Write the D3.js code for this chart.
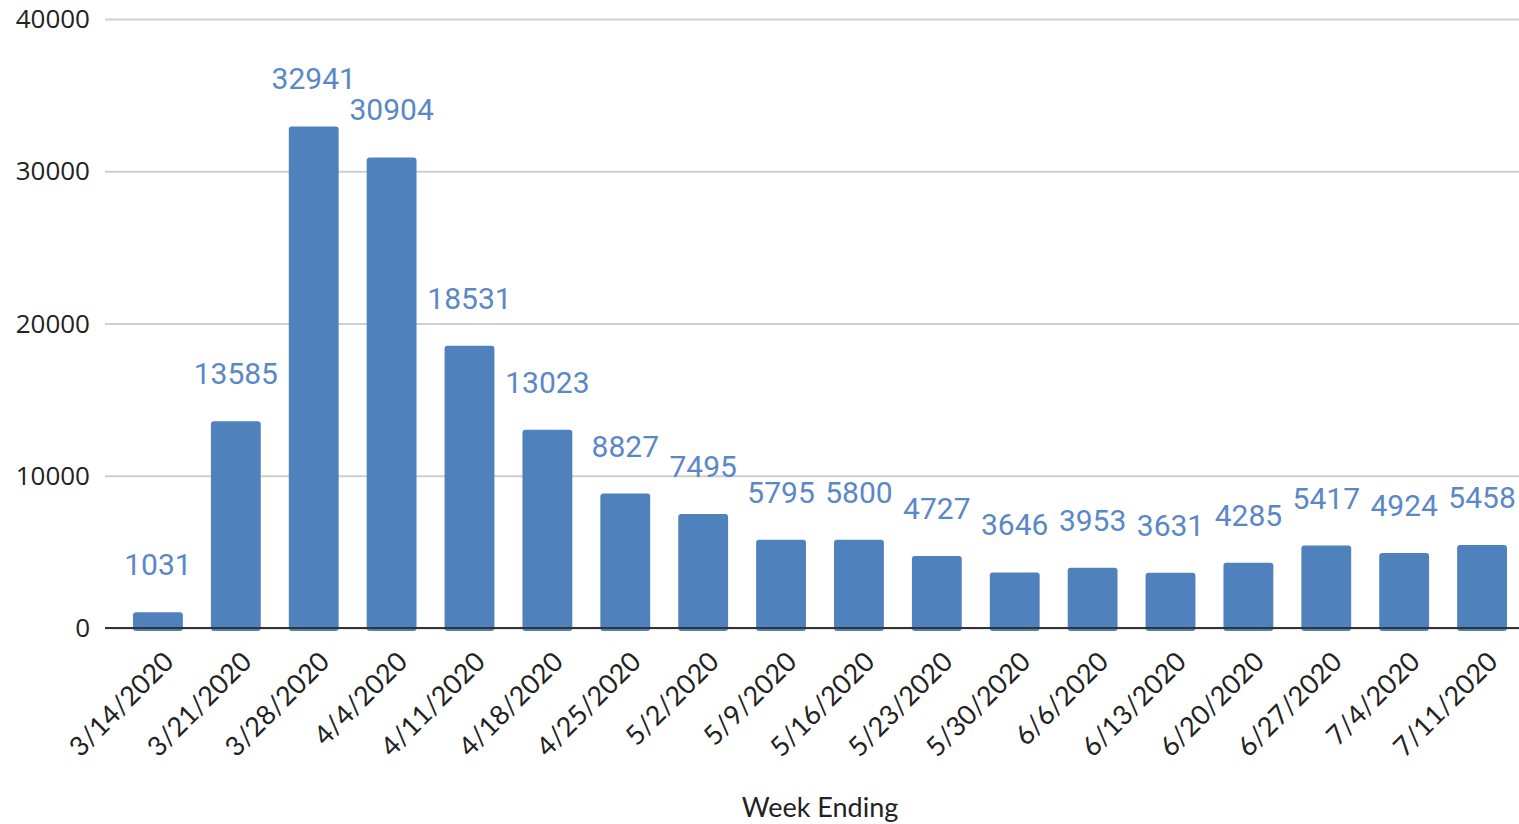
<!DOCTYPE html>
<html>
<head>
<meta charset="utf-8">
<script src="https://cdn.jsdelivr.net/npm/d3@7"></script>
<style>
  body { margin: 0; background: #fff; }
  .tick-label { font-family: "Open Sans", sans-serif; font-size: 26px; fill: #222; }
  .x-label { font-family: Lato, sans-serif; font-size: 27px; fill: #222; }
  .value-label { font-family: Roboto, sans-serif; font-size: 30px; fill: #5a88c6; }
  .axis-title { font-family: Lato, sans-serif; font-size: 27px; fill: #222; }
</style>
</head>
<body>
<div class="chart"></div>
<script>
const WIDTH = 1519;
const HEIGHT = 824;

const WEEKS = ["3/14/2020", "3/21/2020", "3/28/2020", "4/4/2020", "4/11/2020", "4/18/2020",
  "4/25/2020", "5/2/2020", "5/9/2020", "5/16/2020", "5/23/2020", "5/30/2020",
  "6/6/2020", "6/13/2020", "6/20/2020", "6/27/2020", "7/4/2020", "7/11/2020"];
const CLAIMS = [1031, 13585, 32941, 30904, 18531, 13023, 8827, 7495, 5795, 5800,
  4727, 3646, 3953, 3631, 4285, 5417, 4924, 5458];
const Y_TICKS = [0, 10000, 20000, 30000, 40000];
const X_TITLE = "Week Ending";

const BAR_COLOR = "#4f81bd";

const svg = d3.select(".chart").append("svg").attr("width", WIDTH).attr("height", HEIGHT);

// scales
const xScale = d3.scaleBand().domain(WEEKS).range([119, 1521]).paddingInner(0.36).paddingOuter(0.18);
const yScale = d3.scaleLinear().domain([0, 40000]).range([628, 19]);

// gridlines
const yGrid = svg.append("g")
  .attr("transform", "translate(105, 0)")
  .call(d3.axisLeft(yScale).tickValues(Y_TICKS).tickSize(-(1519 - 105)).tickFormat(""));
yGrid.select(".domain").remove();
yGrid.selectAll("line").attr("stroke", "#cfcfcf").attr("stroke-width", 2);

// y tick labels
svg.append("g").selectAll("text").data(Y_TICKS).enter().append("text")
  .attr("class", "tick-label")
  .attr("x", 90)
  .attr("y", d => yScale(d))
  .attr("dy", "0.35em")
  .attr("text-anchor", "end")
  .text(d => d);

// bars
svg.append("g").selectAll("rect").data(CLAIMS).enter().append("rect")
  .attr("x", (d, i) => xScale(WEEKS[i]))
  .attr("y", d => yScale(d))
  .attr("width", xScale.bandwidth())
  .attr("height", d => yScale(0) - yScale(d) + 3)
  .attr("rx", 3)
  .attr("fill", BAR_COLOR);

// baseline
svg.append("line")
  .attr("x1", 105).attr("x2", 1519)
  .attr("y1", yScale(0)).attr("y2", yScale(0))
  .attr("stroke", "#333").attr("stroke-width", 2);

// value labels
svg.append("g").selectAll("text").data(CLAIMS).enter().append("text")
  .attr("class", "value-label")
  .attr("x", (d, i) => xScale(WEEKS[i]) + xScale.bandwidth() / 2)
  .attr("y", d => yScale(d) - 37)
  .attr("text-anchor", "middle")
  .text(d => d);

// x tick labels
svg.append("g").selectAll("text").data(WEEKS).enter().append("text")
  .attr("class", "x-label")
  .attr("transform", d => `translate(${xScale(d) + xScale.bandwidth() / 2 + 4}, ${yScale(0) + 22}) rotate(-45)`)
  .attr("text-anchor", "end")
  .attr("dy", "0.7em")
  .text(d => d);

// axis title
svg.append("text")
  .attr("class", "axis-title")
  .attr("x", 820)
  .attr("y", 817)
  .attr("text-anchor", "middle")
  .text(X_TITLE);
</script>
</body>
</html>
